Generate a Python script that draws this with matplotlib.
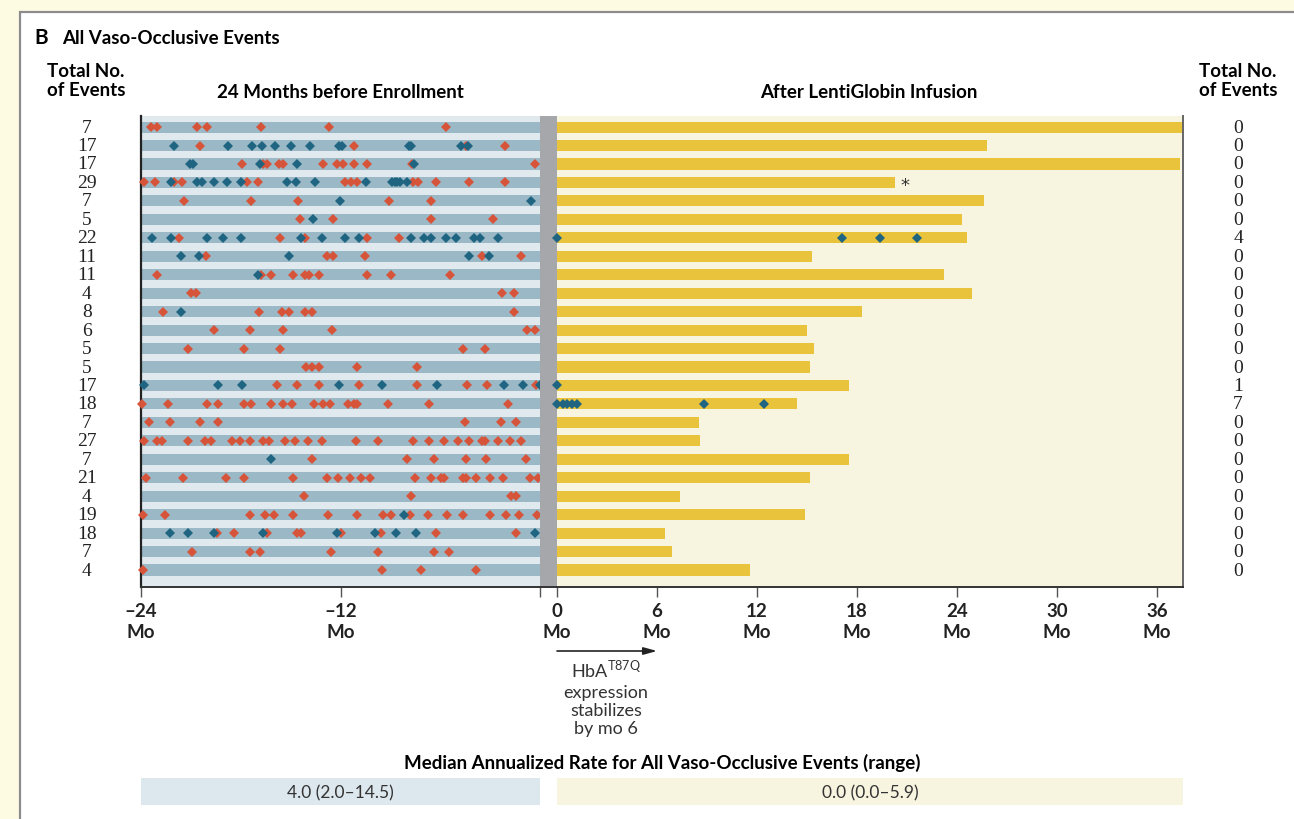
import matplotlib.pyplot as plt
from matplotlib.patches import Rectangle
from matplotlib import transforms

# ---- data (months relative to enrollment / infusion) ----
pre_total = [7, 17, 17, 29, 7, 5, 22, 11, 11, 4, 8, 6, 5, 5, 17, 18, 7, 27, 7, 21, 4, 19, 18, 7, 4]
post_total = [0, 0, 0, 0, 0, 0, 4, 0, 0, 0, 0, 0, 0, 0, 1, 7, 0, 0, 0, 0, 0, 0, 0, 0, 0]

pre_red = [
    [-23.42, -23.02, -20.61, -20.03, -16.78, -12.72, -5.68],
    [-20.43, -11.19, -4.45, -2.13],
    [-17.95, -16.64, -16.44, -15.72, -15.48, -13.08, -12.19, -11.87, -11.19, -10.43, -7.72, -0.31],
    [-23.82, -23.18, -22.01, -21.55, -17.63, -16.96, -11.73, -11.37, -11.03, -7.62, -7.34, -6.26, -4.25, -2.13],
    [-21.41, -17.37, -14.54, -9.06, -6.58],
    [-14.46, -12.48, -6.58, -2.81],
    [-21.69, -15.62, -14.16, -10.43, -8.46],
    [-20.11, -12.80, -12.48, -10.53, -3.51, -1.15],
    [-23.06, -16.80, -16.20, -14.86, -14.16, -13.88, -13.28, -10.43, -8.98, -5.42],
    [-21.01, -20.69, -2.31, -1.57],
    [-22.70, -16.88, -15.52, -15.12, -14.16, -13.70, -1.57],
    [-19.63, -17.43, -15.44, -12.54, -0.79, -0.29],
    [-21.19, -17.83, -15.62, -4.64, -3.29],
    [-14.10, -13.70, -13.28, -10.99, -7.42],
    [-15.82, -14.64, -13.32, -10.89, -7.42, -4.37, -3.19, -0.25],
    [-23.92, -22.38, -20.05, -19.37, -17.79, -17.39, -16.20, -15.44, -14.92, -13.58, -13.08, -12.64,
     -11.53, -11.19, -11.03, -9.14, -6.66, -1.91],
    [-23.52, -22.28, -20.43, -19.37, -4.53, -2.35, -1.45],
    [-23.80, -23.06, -22.76, -21.19, -20.17, -19.77, -18.51, -18.03, -17.43, -16.68, -16.32, -15.34,
     -14.76, -13.98, -13.12, -11.09, -9.73, -7.62, -6.68, -5.80, -4.96, -4.25, -3.51, -3.31, -2.53,
     -1.83, -1.17],
    [-13.72, -8.00, -6.38, -4.45, -3.27, -0.87],
    [-23.72, -21.49, -18.89, -17.81, -14.86, -12.84, -12.14, -11.43, -10.79, -10.23, -7.52, -6.58,
     -5.98, -5.78, -4.66, -4.47, -3.87, -2.99, -2.23, -0.59, -0.15],
    [-14.18, -7.74, -1.75, -1.47],
    [-23.90, -22.58, -17.47, -16.52, -16.02, -14.86, -12.74, -11.01, -9.46, -8.94, -7.82, -6.76,
     -5.60, -4.64, -2.99, -2.05, -1.25, -0.19],
    [-19.41, -18.41, -16.44, -14.64, -14.40, -11.99, -9.57, -6.28, -1.45],
    [-20.93, -17.47, -16.86, -12.56, -9.73, -6.36, -5.50],
    [-23.90, -9.48, -7.14, -3.87],
]

pre_blue = [
    [],
    [-22.01, -18.79, -17.33, -16.74, -15.96, -15.00, -13.82, -12.07, -11.91, -7.86, -7.76, -4.76, -4.31],
    [-21.05, -20.89, -16.84, -14.60, -7.58],
    [-22.21, -20.61, -20.31, -19.61, -18.81, -17.99, -15.20, -14.70, -13.56, -10.47, -8.90, -8.74,
     -8.58, -8.42, -8.02],
    [-12.03, -0.57],
    [-13.66],
    [-23.34, -22.20, -20.03, -19.05, -17.97, -14.36, -13.12, -11.73, -10.91, -7.76, -6.96, -6.58,
     -5.64, -5.04, -3.97, -3.61, -2.51],
    [-21.57, -20.51, -15.08, -4.25, -3.07],
    [-16.94],
    [],
    [-21.57],
    [],
    [],
    [],
    [-23.82, -19.35, -17.91, -12.09, -9.48, -6.20, -2.17, -1.01, -0.01],
    [],
    [],
    [],
    [-16.18],
    [],
    [],
    [-8.20],
    [-22.28, -21.17, -19.61, -16.68, -12.24, -9.93, -8.66, -7.44, -0.29],
    [],
    [],
]

post_len = [38.5, 25.8, 37.4, 20.3, 25.6, 24.3, 24.6, 15.3, 23.2, 24.9, 18.3, 15.0, 15.4, 15.2,
            17.5, 14.4, 8.5, 8.6, 17.5, 15.2, 7.4, 14.9, 6.5, 6.9, 11.6]

post_blue = [[], [], [], [], [], [], [0, 17.1, 19.4, 21.6], [], [], [], [], [], [], [],
             [0], [0, 0.35, 0.6, 0.87, 1.17, 8.8, 12.4], [], [], [], [], [], [], [], [], []]

star_row = 3
star_x = 20.9

pre_ticks = [-24, -12, 0]
pre_ticklabels = ['\u201324\nMo', '\u201312\nMo', '']
post_ticks = [0, 6, 12, 18, 24, 30, 36]
post_ticklabels = [f'{t}\nMo' for t in post_ticks]

median_pre = '4.0 (2.0\u201314.5)'
median_post = '0.0 (0.0\u20135.9)'

# ---- style ----
PRE_BG = '#dfe9ee'
PRE_BAND = '#9bb8c6'
GAP = '#a6a7ab'
POST_BG = '#f7f4e0'
YELLOW = '#e8c33b'
RED = '#d6543a'
BLUE = '#1f6582'
PAGE = '#fefbe3'
SANS = ['Lato', 'DejaVu Sans']
SERIF = ['Liberation Serif', 'DejaVu Serif']
BOLD_SIZE = 13.5
MS = 5.2

W, H = 1294, 820


def box(x0, y0, x1, y1):
    # pixel box -> figure fraction [left, bottom, width, height]
    return [x0 / W, 1 - y1 / H, (x1 - x0) / W, (y1 - y0) / H]


def fx(px):
    return px / W


def fy(py):
    return 1 - py / H


fig = plt.figure(figsize=(W / 100, H / 100), dpi=100, facecolor=PAGE)
fig.patches.append(Rectangle((fx(20), fy(830)), 1.1, fy(13) - fy(830), transform=fig.transFigure,
                             facecolor='white', edgecolor='#8c8c8c', lw=1.6, zorder=-5))

n = len(pre_total)
rows = list(range(n))
ylim = (24.92, -0.6)

ax_pre = fig.add_axes(box(141, 117, 540, 588), facecolor=PRE_BG)
ax_gap = fig.add_axes(box(540, 117, 557, 588), facecolor=GAP)
ax_post = fig.add_axes(box(557, 117, 1183, 588), facecolor=POST_BG)
ax_gap.set_zorder(0.5)
ax_post.set_zorder(1)

ax_pre.set_xlim(-24, 0)
ax_post.set_xlim(0, 37.55)
for ax in (ax_pre, ax_gap, ax_post):
    ax.set_ylim(*ylim)
    ax.set_yticks([])
    ax.spines['top'].set_visible(False)
    ax.spines['bottom'].set_color('#333333')
    ax.spines['bottom'].set_linewidth(1.4)

ax_pre.spines['right'].set_visible(False)
ax_pre.spines['left'].set_color('#222222')
ax_pre.spines['left'].set_linewidth(1.6)
ax_gap.spines['left'].set_visible(False)
ax_gap.spines['right'].set_visible(False)
ax_gap.set_xticks([])
ax_post.spines['left'].set_visible(False)
ax_post.spines['right'].set_color('#666666')
ax_post.spines['right'].set_linewidth(1.4)

# pre-enrollment bands and events
ax_pre.barh(rows, 24, left=-24, height=0.6, color=PRE_BAND, zorder=1)
for i in rows:
    ax_pre.plot(pre_red[i], [i] * len(pre_red[i]), 'D', color=RED, ms=MS, mew=0,
                zorder=3, clip_on=False)
    ax_pre.plot(pre_blue[i], [i] * len(pre_blue[i]), 'D', color=BLUE, ms=MS, mew=0,
                zorder=3, clip_on=False)

# post-infusion follow-up bars and events
ax_post.barh(rows, post_len, left=0, height=0.6, color=YELLOW, zorder=1)
for i in rows:
    ax_post.plot(post_blue[i], [i] * len(post_blue[i]), 'D', color=BLUE, ms=MS, mew=0,
                 zorder=3, clip_on=False)
ax_post.text(star_x, star_row + 0.15, '*', ha='center', va='center', fontsize=13, color='#333333')

# ticks
ax_pre.set_xticks(pre_ticks)
ax_pre.set_xticklabels(pre_ticklabels)
ax_post.set_xticks(post_ticks)
ax_post.set_xticklabels(post_ticklabels)
for ax in (ax_pre, ax_post):
    ax.tick_params(axis='x', direction='out', length=7, width=1, color='#555555', pad=4)
    for lab in ax.get_xticklabels():
        lab.set_family(SANS)
        lab.set_fontweight('bold')
        lab.set_fontsize(13.5)
        lab.set_linespacing(1.3)
        lab.set_color('#222222')

# event count columns
tr_left = transforms.blended_transform_factory(fig.transFigure, ax_pre.transData)
for i in rows:
    ax_pre.text(fx(87), i, str(pre_total[i]), transform=tr_left, ha='center', va='center',
                fontsize=14, family=SERIF, color='#222222', clip_on=False)
    ax_pre.text(fx(1238), i, str(post_total[i]), transform=tr_left, ha='center', va='center',
                fontsize=14, family=SERIF, color='#222222', clip_on=False)

# headers
fig.text(fx(34), fy(38), 'B', fontsize=15, fontweight='bold', family=SANS, va='center')
fig.text(fx(62), fy(38), 'All Vaso-Occlusive Events', fontsize=BOLD_SIZE, fontweight='bold',
         family=SANS, va='center')
fig.text(fx(86), fy(81), 'Total No.\nof Events', fontsize=BOLD_SIZE, fontweight='bold', family=SANS,
         ha='center', va='center', linespacing=1.2)
fig.text(fx(1238), fy(81), 'Total No.\nof Events', fontsize=BOLD_SIZE, fontweight='bold', family=SANS,
         ha='center', va='center', linespacing=1.2)
fig.text(fx(340), fy(92), '24 Months before Enrollment', fontsize=BOLD_SIZE, fontweight='bold',
         family=SANS, ha='center', va='center')
fig.text(fx(869), fy(92), 'After LentiGlobin Infusion', fontsize=BOLD_SIZE, fontweight='bold',
         family=SANS, ha='center', va='center')

# HbA annotation
tr_arrow = transforms.blended_transform_factory(ax_post.transData, fig.transFigure)
ax_post.annotate('', xy=(6, fy(652)), xytext=(0, fy(652)), xycoords=tr_arrow, textcoords=tr_arrow,
                 arrowprops=dict(arrowstyle='-|>,head_length=0.8,head_width=0.22', color='#222222',
                                 lw=1.2, shrinkA=0, shrinkB=0), annotation_clip=False)
fig.text(fx(606), fy(669), r'HbA$^{\mathregular{T87Q}}$', fontsize=13, family=SANS,
         ha='center', va='center', color='#333333')
fig.text(fx(606), fy(711), 'expression\nstabilizes\nby mo 6', fontsize=13, family=SANS,
         ha='center', va='center', linespacing=1.15, color='#333333')

# median annualized rate
fig.text(fx(662), fy(763), 'Median Annualized Rate for All Vaso-Occlusive Events (range)',
         fontsize=BOLD_SIZE, fontweight='bold', family=SANS, ha='center', va='center')
fig.patches.append(Rectangle((fx(141), fy(806)), fx(540) - fx(141), fy(779) - fy(806),
                             transform=fig.transFigure, facecolor='#dde8ee', edgecolor='none'))
fig.patches.append(Rectangle((fx(557), fy(806)), fx(1183) - fx(557), fy(779) - fy(806),
                             transform=fig.transFigure, facecolor=POST_BG, edgecolor='none'))
fig.text(fx(340), fy(793), median_pre, fontsize=12.5, family=SANS, ha='center', va='center',
         color='#333333')
fig.text(fx(870), fy(793), median_post, fontsize=12.5, family=SANS, ha='center', va='center',
         color='#333333')

fig.savefig('out.png', dpi=100, facecolor=PAGE)
